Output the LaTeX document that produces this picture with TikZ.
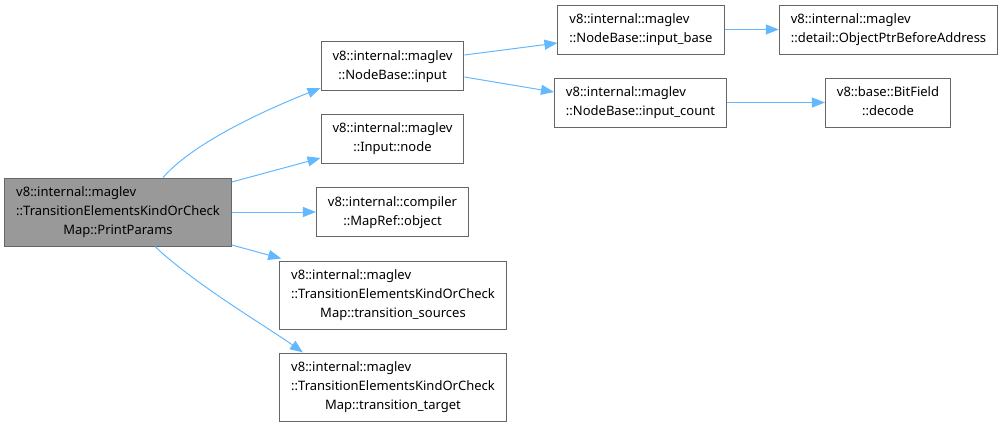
\documentclass[tikz,border=0pt]{standalone}
\usepackage{fontspec}
\setmainfont{Noto Sans}
\usetikzlibrary{positioning,arrows.meta,calc}
\definecolor{edgeC}{RGB}{99,184,255}
\definecolor{boxline}{RGB}{102,102,102}
\definecolor{mainfill}{RGB}{153,153,153}

% label: leading lines left, last line centred
\newcommand{\fnlbl}[2]{\begin{tabular}{@{}l@{}}#1\\\multicolumn{1}{@{}c@{}}{#2}\end{tabular}}

\begin{document}
\begin{tikzpicture}[
  x=1pt, y=-1pt,
  font=\fontsize{13}{19}\selectfont,
  fn/.style={draw=boxline, fill=white, line width=1pt, inner xsep=11.5pt, inner ysep=5.5pt},
  arr/.style={-{Triangle[length=13pt, width=10pt]}, color=edgeC, line width=1pt},
]
\useasboundingbox (0,0) rectangle (1005,426);

% ---------- caller ----------
\node[fn, fill=mainfill] (main) at (118,212)
  {\fnlbl{v8::internal::maglev\\::TransitionElementsKindOrCheck}{Map::PrintParams}};

% ---------- first column ----------
\node[fn] (input) at (392.5,66) {\fnlbl{v8::internal::maglev}{::NodeBase::input}};
\node[fn] (inode) at (392.5,138.5) {\fnlbl{v8::internal::maglev}{::Input::node}};
\node[fn] (object) at (392.5,212) {\fnlbl{v8::internal::compiler}{::MapRef::object}};
\node[fn] (sources) at (393,295)
  {\fnlbl{v8::internal::maglev\\::TransitionElementsKindOrCheck}{Map::transition\_sources}};
\node[fn] (target) at (393,387)
  {\fnlbl{v8::internal::maglev\\::TransitionElementsKindOrCheck}{Map::transition\_target}};

% ---------- second column ----------
\node[fn] (inbase) at (641,29.5) {\fnlbl{v8::internal::maglev}{::NodeBase::input\_base}};
\node[fn] (incount) at (640.5,102.5) {\fnlbl{v8::internal::maglev}{::NodeBase::input\_count}};

% ---------- third column ----------
\node[fn] (objptr) at (888.5,29.5) {\fnlbl{v8::internal::maglev}{::detail::ObjectPtrBeforeAddress}};
\node[fn] (decode) at (888,102.5) {\fnlbl{v8::base::BitField}{::decode}};

% calls
\draw[arr] ([xshift=45pt]main.north) .. controls +(35,-40) and +(-35,14) .. ([yshift=3pt]input.south west);
\draw[arr] ([yshift=30pt]main.east) -- ([yshift=-19.5pt]inode.west);
\draw[arr] (main.east) -- (object.west);
\draw[arr] ([yshift=-33pt]main.east) -- ([xshift=2pt,yshift=2pt]sources.north west);
\draw[arr] ([xshift=37pt]main.south) .. controls +(40,38) and +(-35,-25) .. ([xshift=-90pt]target.north);

\draw[arr] ([yshift=11pt]input.east) -- ([yshift=-13.5pt]inbase.west);
\draw[arr] ([yshift=-11pt]input.east) -- ([yshift=10.5pt]incount.west);
\draw[arr] (inbase) -- (objptr);
\draw[arr] (incount) -- (decode);

\end{tikzpicture}
\end{document}
